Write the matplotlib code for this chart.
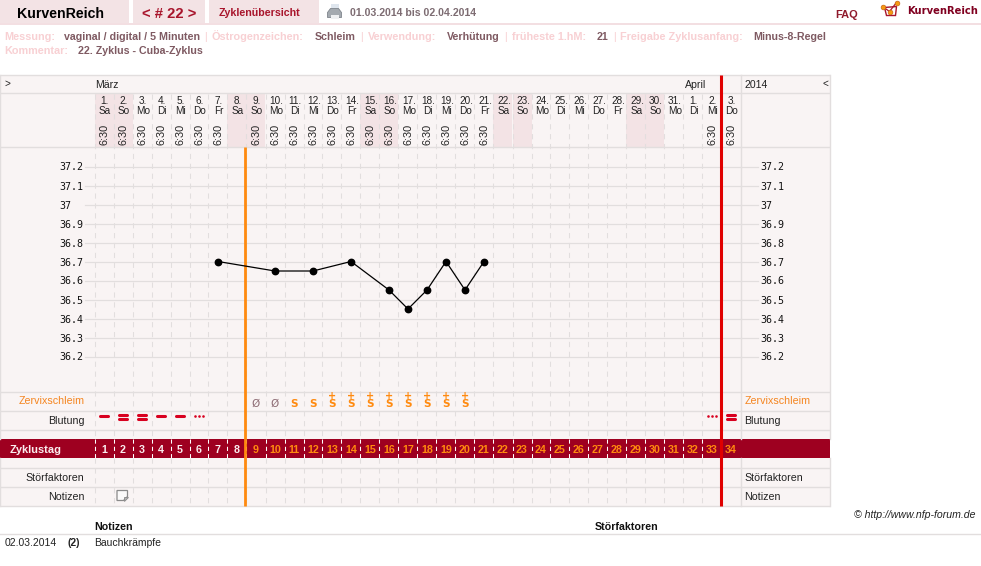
import matplotlib
matplotlib.use('Agg')
import matplotlib.pyplot as plt
from matplotlib.patches import Rectangle, Polygon
from matplotlib.transforms import blended_transform_factory

# cycle data
days = list(range(1, 35))
dates = [1, 2, 3, 4, 5, 6, 7, 8, 9, 10, 11, 12, 13, 14, 15, 16, 17, 18, 19, 20, 21, 22, 23, 24,
         25, 26, 27, 28, 29, 30, 31, 1, 2, 3]
weekdays = ['Sa', 'So', 'Mo', 'Di', 'Mi', 'Do', 'Fr'] * 4 + ['Sa', 'So', 'Mo', 'Di', 'Mi', 'Do']
weekend_days = [1, 2, 8, 9, 15, 16, 22, 23, 29, 30]
time_days = [1, 2, 3, 4, 5, 6, 7, 9, 10, 11, 12, 13, 14, 15, 16, 17, 18, 19, 20, 21, 33, 34]
temp_days = [7, 10, 12, 14, 16, 17, 18, 19, 20, 21]
temps = [36.7, 36.65, 36.65, 36.7, 36.55, 36.45, 36.55, 36.7, 36.55, 36.7]
temp_ticks = [37.2, 37.1, 37, 36.9, 36.8, 36.7, 36.6, 36.5, 36.4, 36.3, 36.2]
temp_tick_labels = ['37.2', '37.1', '37', '36.9', '36.8', '36.7', '36.6', '36.5', '36.4', '36.3', '36.2']
dry_days = [9, 10]
s_days = [11, 12]
s_plus_days = [13, 14, 15, 16, 17, 18, 19, 20]
single_bleed = [1, 4, 5]
double_bleed = [2, 3, 34]
spot_bleed = [6, 33]
cover_line_day = 8.43
cycle_end_day = 33.46

W, H = 981, 566
GRID = '#e2dede'
PANEL = '#f9f4f4'
PINK = '#f3e3e5'
DARKRED = '#9e0020'
ORANGE = '#ff8a0f'
FADED = '#f8d0d3'
VALUE = '#7f5a62'
TEXT = '#222222'
HEAD_NUDGE = 0.05  # header texts sit about a pixel right of the column centre

plt.rcParams['font.family'] = ['Liberation Sans', 'DejaVu Sans']

fig = plt.figure(figsize=(W / 100, H / 100), dpi=100, facecolor='white')

# page layer in pixel coordinates
page = fig.add_axes([0, 0, 1, 1], zorder=0)
page.set_xlim(0.5, W + 0.5)
page.set_ylim(H + 0.5, 0.5)
page.axis('off')

# temperature plot, x in cycle days, y in degrees
tax = fig.add_axes([94.5 / W, 1 - 391.5 / H, 646 / W, 244 / H], zorder=2)
tax.set_xlim(0.5, 34.5)
tax.set_ylim(36.7 - 130 / 190, 36.7 + 114 / 190)
tax.patch.set_alpha(0)
for s in tax.spines.values():
    s.set_visible(False)
tax.set_xticks([])
tax.set_yticks(temp_ticks)
tax.set_yticklabels(temp_tick_labels, family='DejaVu Sans Mono', fontsize=7.2, color='#111111', ha='left')
tax.tick_params(axis='y', length=0, pad=25.2)

rax = tax.twinx()
rax.set_ylim(tax.get_ylim())
rax.patch.set_alpha(0)
for s in rax.spines.values():
    s.set_visible(False)
rax.set_yticks(temp_ticks)
rax.set_yticklabels(temp_tick_labels, family='DejaVu Sans Mono', fontsize=7.2, color='#111111', ha='left')
rax.tick_params(axis='y', length=0, pad=14.4)

day_y = blended_transform_factory(tax.transData, page.transData)
px_temp = blended_transform_factory(page.transData, tax.transData)


def txt(x, y, s, size=7.9, color=TEXT, weight='normal', ha='left', **kw):
    page.text(x, y, s, fontsize=size, color=color, fontweight=weight, ha=ha, va='center_baseline', **kw)


def rect(x0, y0, x1, y1, color, z=1):
    page.add_patch(Rectangle((x0, y0), x1 - x0, y1 - y0, fc=color, ec='none', zorder=z))


# top navigation
rect(0, 0, 129, 23, PINK)
rect(133, 0, 205, 23, PINK)
rect(209, 0, 319, 23, PINK)
rect(0, 23, W, 25, '#f3dfe2')
txt(61, 12.5, 'KurvenReich', size=10.2, color='black', ha='center', weight='bold')
txt(169.5, 12.5, '< # 22 >', size=10.6, color='#a8152c', weight='bold', ha='center')
txt(219, 12.5, 'Zyklenübersicht', size=7.7, color='#a8152c', weight='bold')
txt(350, 12.5, '01.03.2014 bis 02.04.2014', size=7.6, color='#7d6c72', weight='bold')
txt(836, 14.5, 'FAQ', size=7.9, color='#8f1a2c', weight='bold')
txt(908, 10.5, 'KurvenReich', size=7.2, color='#800020', weight='bold', family='DejaVu Sans')

# printer icon
rect(331, 4, 339, 10, '#dfe6ee', 2)
page.add_patch(Polygon([(328, 13), (331, 9), (339, 9), (342, 13), (342, 18), (328, 18)],
                       fc='#a4aab0', ec='#7f858c', lw=0.6, zorder=3))
rect(331, 15, 339, 19, '#eef0f2', 4)

# logo
page.add_patch(Polygon([(885, 8), (887, 16), (896, 16), (897, 7)], fill=False, ec='#a8152c', lw=1.0, zorder=2))
page.plot([883, 890, 897], [7, 12, 3], color='#a8152c', lw=0.9, zorder=3)
page.scatter([883, 890, 897], [7, 12, 3], s=12, color='#f59a12', ec='#c05a10', lw=0.4, zorder=4)

# info lines
info_labels = [(5, 'Messung:'), (212, 'Östrogenzeichen:'), (368, 'Verwendung:'),
               (512, 'früheste 1.hM:'), (621, 'Freigabe Zyklusanfang:')]
info_values = [(64, 'vaginal / digital / 5 Minuten'), (315, 'Schleim'), (447, 'Verhütung'),
               (597, '21'), (754, 'Minus-8-Regel')]
for x, s in info_labels:
    txt(x, 36, s, size=7.8, color=FADED, weight='bold')
for x, s in info_values:
    txt(x, 36, s, size=7.65, color=VALUE, weight='bold')
for x in [205, 361, 505, 614]:
    txt(x, 36, '|', size=7.6, color=FADED)
txt(5, 51, 'Kommentar:', size=7.8, color=FADED, weight='bold')
txt(78, 51, '22. Zyklus - Cuba-Zyklus', size=7.65, color=VALUE, weight='bold')

# chart frame
rect(0.5, 75, 830.5, 506.5, PANEL, 0)
for d in weekend_days:
    page.add_patch(Rectangle((d - 0.5, 94), 1, 54, fc=PINK, ec='none', zorder=1, transform=day_y))
rect(0, 439, 830.5, 458, DARKRED, 1)

for y in [75.5, 93.5, 147.5, 392.5, 411.5, 430.5, 468.5, 487.5, 506.5]:
    page.plot([0.5, 830.5], [y, y], color=GRID, lw=1, zorder=1.5, solid_capstyle='butt')
for x in [0.5, 741, 830.5]:
    page.plot([x, x], [75, 439], color=GRID, lw=1, zorder=1.5)
    page.plot([x, x], [458, 506.5], color=GRID, lw=1, zorder=1.5)

# day separators
for d in days[:-1] + [0]:
    page.plot([d + 0.5] * 2, [94, 439], transform=day_y, color=GRID, lw=0.75, ls=(0, (5, 4.5)), zorder=1.6)
    page.plot([d + 0.5] * 2, [458, 506], transform=day_y, color=GRID, lw=0.75, ls=(0, (5, 4.5)), zorder=1.6)
    page.plot([d + 0.5] * 2, [439, 458], transform=day_y, color='white', lw=0.75, ls=(0, (4, 3)), zorder=1.6)

# temperature lines, running a little past the plot on both sides
for t in temp_ticks:
    page.plot([85, 758], [t, t], transform=px_temp, color=GRID, lw=0.9, zorder=1.5)

# header row
txt(5, 83, '>', size=7.2)
txt(96, 85, 'März', size=7.6)
txt(685, 85, 'April', size=7.6)
txt(745, 85, '2014', size=7.6)
txt(823, 83, '<', size=7.2)

for d, num, wd in zip(days, dates, weekdays):
    page.text(d + HEAD_NUDGE, 101, f'{num}.', transform=day_y, fontsize=7.2, color=TEXT, ha='center',
              va='center_baseline', zorder=3)
    page.text(d + HEAD_NUDGE, 111, wd, transform=day_y, fontsize=7.2, color=TEXT, ha='center',
              va='center_baseline', zorder=3)
for d in time_days:
    page.text(d + HEAD_NUDGE, 134.5, '6:30', transform=day_y, fontsize=7.8, color=TEXT, ha='center', va='center',
              rotation=90, zorder=3)

# side labels
for y, s, c in [(401, 'Zervixschleim', '#f5851f'), (420.5, 'Blutung', TEXT),
                (477.5, 'Störfaktoren', TEXT), (496.5, 'Notizen', TEXT)]:
    txt(85, y, s, size=7.7, color=c, ha='right')
    txt(745, y, s, size=7.7, color=c)

# mucus observations
for d in dry_days:
    page.text(d, 404.5, 'Ø', transform=day_y, fontsize=7.4, color='#8c6a72', ha='center', va='center',
              family='DejaVu Sans', zorder=3)
for d in s_days + s_plus_days:
    page.text(d, 404.5, 'S', transform=day_y, fontsize=7.6, color=ORANGE, ha='center', va='center',
              weight='bold', family='DejaVu Sans', zorder=3)
for d in s_plus_days:
    page.text(d, 396.3, '+', transform=day_y, fontsize=7, color=ORANGE, ha='center', va='center',
              family='DejaVu Sans', weight='bold', zorder=3)

# bleeding marks
bleed_kw = dict(transform=day_y, color='#d8001f', lw=2.2, solid_capstyle='round', zorder=3)
for d in single_bleed:
    page.plot([d - 0.22, d + 0.22], [416.5, 416.5], **bleed_kw)
for d in double_bleed:
    page.plot([d - 0.22, d + 0.22], [415, 415], **bleed_kw)
    page.plot([d - 0.22, d + 0.22], [419, 419], **bleed_kw)
for d in spot_bleed:
    page.scatter([d - 0.2, d, d + 0.2], [416.5] * 3, s=3.5, color='#d8001f', lw=0, transform=day_y, zorder=3)

# cycle day band
txt(10, 449.5, 'Zyklustag', size=7.9, color='#fbeef0', weight='bold')
for d in days:
    c = '#fbeef0' if d <= 8 else ORANGE
    page.text(d, 449.5, str(d), transform=day_y, fontsize=7.7, color=c, weight='bold', ha='center',
              va='center_baseline', zorder=3)

# note icon
page.add_patch(Polygon([(117.5, 491), (128, 491), (128, 497), (124, 501), (117.5, 501)], fc='#fbfafa',
                       ec='#8a8a8a', lw=0.9, zorder=3))
page.add_patch(Polygon([(124, 501), (124, 497), (128, 497)], fc='#b5b5b5', ec='#8a8a8a', lw=0.6, zorder=3))

# cover line and cycle end
page.plot([cover_line_day] * 2, [147.5, 506.5], transform=day_y, color=ORANGE, lw=2.0, zorder=2, solid_capstyle='butt')
page.plot([cycle_end_day] * 2, [75, 506.5], transform=day_y, color='#e00000', lw=2.2, zorder=2, solid_capstyle='butt')

# temperature curve
tax.plot(temp_days, temps, color='black', lw=0.9, marker='o', ms=4.6, zorder=5)

# footer
txt(976, 514, '© http://www.nfp-forum.de', size=7.6, color=TEXT, ha='right', style='italic')
txt(95, 527, 'Notizen', size=7.7, color='#111111', weight='bold')
txt(595, 527, 'Störfaktoren', size=7.7, color='#111111', weight='bold')
page.plot([0, W], [534.5, 534.5], color=GRID, lw=1)
txt(5, 542, '02.03.2014', size=7.5)
txt(68, 542, '(2)', size=7.5, weight='bold')
txt(95, 542, 'Bauchkrämpfe', size=7.5)

fig.savefig('out.png', dpi=100, facecolor='white')
